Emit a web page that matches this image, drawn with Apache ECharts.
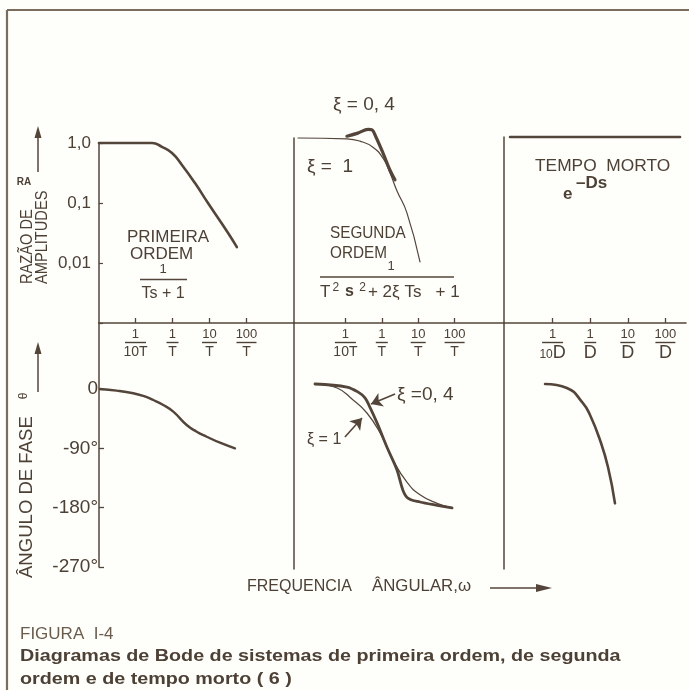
<!DOCTYPE html>
<html>
<head>
<meta charset="utf-8">
<script src="https://cdn.jsdelivr.net/npm/echarts@6/dist/echarts.min.js"></script>
<style>
  html, body { margin: 0; padding: 0; background: #fefefb; }
  #chart { width: 689px; height: 690px; }
</style>
</head>
<body>
<div id="chart"></div>
<script>
// ---- tick values and labels ----
const freqTicks = [0.1, 1, 10, 100];
const freqNumerators = ['1', '1', '10', '100'];
const freqDenomsT = ['10T', 'T', 'T', 'T'];
const freqDenomsD = ['10D', 'D', 'D', 'D'];
const ampTicks = [1, 0.1, 0.01];
const ampTickLabels = ['1,0', '0,1', '0,01'];
const phaseTicks = [0, -90, -180, -270];
const phaseTickLabels = ['0', '-90°', '-180°', '-270°'];

// ---- first order 1/(Ts+1): x = ωT ----
const firstAmpW   = [0.0103, 0.038, 0.18, 0.28, 0.52, 0.97, 1.8, 4.06, 9.1, 31.5, 55];
const firstAmp    = [1, 1, 1, 1, 0.86, 0.68, 0.43, 0.215, 0.1, 0.032, 0.0184];
const firstPhaseW = [0.011, 0.031, 0.087, 0.163, 0.303, 0.564, 1.05, 2.42, 4.51, 8.41, 19.2, 48.8];
const firstPhase  = [0, -2.5, -6.5, -10.6, -16.7, -24.3, -34.4, -54.6, -64.8, -72.4, -81.5, -90];

// ---- second order, ξ = 1 ----
const secondAmpW1   = [0.005, 0.11, 0.25, 0.57, 1.08, 1.68, 2.6, 4.9, 11.2];
const secondAmp1    = [1, 0.97, 0.89, 0.71, 0.47, 0.27, 0.14, 0.061, 0.0098];
const secondPhaseW1 = [0.0146, 0.059, 0.16, 0.39, 0.89, 2.02, 4.9, 11.2, 33, 85];
const secondPhase1  = [0, -6, -24, -44, -74, -115, -149, -168, -181, -188];

// ---- second order, ξ = 0,4 ----
const secondAmpW04   = [0.11, 0.22, 0.42, 0.54, 0.69, 1.08, 1.68, 2.3];
const secondAmp04    = [1.07, 1.2, 1.38, 1.35, 1.04, 0.57, 0.30, 0.21];
const secondPhaseW04 = [0.0146, 0.11, 0.22, 0.345, 0.47, 0.74, 1.39, 2.6, 3.8, 5.2, 11.2, 33, 85];
const secondPhase04  = [0, -4.6, -12, -21, -35, -59, -96, -130, -161, -173, -179, -184, -188];

// ---- dead time e^-Ds: x = ωD ----
const deadAmpW   = [0.0074, 245];
const deadAmp    = [1, 1];
const deadPhaseW = [0.063, 0.24, 0.64, 0.99, 1.82, 2.97, 4.56];
const deadPhase  = [0, -6, -29, -47, -85, -126, -181];

const INK = '#54453a';
const TEXT = '#4d4035';
const FONT = '"Liberation Sans", Arial, sans-serif';

const zip = (xs, ys) => xs.map((x, i) => [x, ys[i]]);
const sameLog = (a, b) => Math.abs(Math.log10(a) - Math.log10(b)) < 1e-6;

const barStyles = ['b20', 'b12', 'b14', 'b18'];
function fracLabel(denoms) {
  return function (v) {
    const i = freqTicks.findIndex(t => sameLog(v, t));
    if (i < 0) return '';
    return '{n|' + freqNumerators[i] + '}\n{' + barStyles[i] + '|\u00a0}\n' + denoms[i];
  };
}
const richFrac = {
  n: { fontSize: 13, lineHeight: 12, color: TEXT, fontFamily: FONT },
  b20: { width: 21, height: 1.4, lineHeight: 5, backgroundColor: TEXT },
  b12: { width: 12, height: 1.4, lineHeight: 5, backgroundColor: TEXT },
  b14: { width: 15, height: 1.4, lineHeight: 5, backgroundColor: TEXT },
  b18: { width: 20, height: 1.4, lineHeight: 5, backgroundColor: TEXT },
  d: { fontSize: 14, lineHeight: 14, color: TEXT, fontFamily: FONT },
  s: { fontSize: 12, lineHeight: 16, color: TEXT, fontFamily: FONT, verticalAlign: 'bottom' },
  D: { fontSize: 18, lineHeight: 16, color: TEXT, fontFamily: FONT }
};
const denT = freqDenomsT.map(d => '{d|' + d + '}');
const denD = freqDenomsD.map(d => d === '10D' ? '{s|10}{D|D}' : '{D|' + d + '}');

function freqAxis(grid, min, max, denoms) {
  const labeled = denoms !== null;
  return {
    type: 'log', gridIndex: grid, min: min, max: max, logBase: 10,
    axisLine: { show: labeled, lineStyle: { color: INK, width: 1.5 } },
    axisTick: { show: labeled, inside: true, length: 5, customValues: freqTicks,
                lineStyle: { color: INK, width: 1.3 } },
    axisLabel: labeled ? { show: true, customValues: freqTicks, margin: 5,
                           formatter: fracLabel(denoms), rich: richFrac, color: TEXT } : { show: false },
    splitLine: { show: false }
  };
}

function ampAxis(grid, labeled) {
  return {
    type: 'log', gridIndex: grid, min: 0.001, max: 1, logBase: 10,
    axisLine: { show: true, onZero: false, lineStyle: { color: INK, width: 1.5 } },
    axisTick: { show: labeled, inside: true, length: 4, lineStyle: { color: INK, width: 1.2 } },
    axisLabel: labeled ? {
      show: true, margin: 8, color: TEXT, fontFamily: FONT, fontSize: 17,
      formatter: v => { const i = ampTicks.findIndex(t => sameLog(v, t)); return i < 0 ? '' : ampTickLabels[i]; }
    } : { show: false },
    splitLine: { show: false }
  };
}

function phaseAxis(grid, min, max, labeled) {
  return {
    type: 'value', gridIndex: grid, min: min, max: max,
    axisLine: { show: true, onZero: false, lineStyle: { color: INK, width: 1.5 } },
    axisTick: { show: labeled, inside: true, length: 5, customValues: phaseTicks,
                lineStyle: { color: INK, width: 1.3 } },
    axisLabel: labeled ? {
      show: true, margin: 1, customValues: phaseTicks, color: TEXT, fontFamily: FONT, fontSize: 19,
      formatter: v => { const i = phaseTicks.indexOf(Math.round(v)); return i < 0 ? '' : phaseTickLabels[i]; }
    } : { show: false },
    splitLine: { show: false }
  };
}

function curve(xi, yi, data, width, extra) {
  return Object.assign({
    type: 'line', xAxisIndex: xi, yAxisIndex: yi, data: data,
    smooth: 0.5, showSymbol: false, symbol: 'none', clip: false, silent: true,
    lineStyle: { color: INK, width: width, cap: 'round', join: 'round' }
  }, extra || {});
}

function txt(text, x, y, opts) {
  opts = opts || {};
  return {
    type: 'text', x: x, y: y, rotation: opts.rotation || 0,
    scaleX: opts.scaleX || 1, scaleY: opts.scaleY || 1, silent: true,
    style: Object.assign({
      text: text, fill: TEXT, font: '15px ' + FONT,
      textAlign: 'left', textVerticalAlign: 'middle'
    }, opts.style || {})
  };
}
function seg(x1, y1, x2, y2, w, color) {
  return { type: 'line', silent: true, shape: { x1, y1, x2, y2 },
           style: { stroke: color || INK, lineWidth: w || 1.5 } };
}
function head(points) {
  return { type: 'polygon', silent: true, shape: { points: points }, style: { fill: INK } };
}

const ROT = Math.PI / 2;

const option = {
  backgroundColor: '#fefefb',
  animation: false,
  grid: [
    { left: 99,  top: 143, width: 195, height: 180 },
    { left: 294, top: 138, width: 210, height: 185 },
    { left: 504, top: 137, width: 182, height: 186 },
    { left: 99,  top: 323, width: 195, height: 244 },
    { left: 294, top: 323, width: 210, height: 246 },
    { left: 504, top: 323, width: 182, height: 246 }
  ],
  xAxis: [
    freqAxis(0, 0.01033, 1923, denT),
    freqAxis(1, 0.00387, 2276, denT),
    freqAxis(2, 0.00510, 353, denD),
    freqAxis(3, 0.01033, 1923, null),
    freqAxis(4, 0.00387, 2276, null),
    freqAxis(5, 0.00510, 353, null)
  ],
  yAxis: [
    ampAxis(0, true),
    ampAxis(1, false),
    ampAxis(2, false),
    phaseAxis(3, -270, 100.1, true),
    phaseAxis(4, -280.6, 92.5, false),
    phaseAxis(5, -280.6, 92.5, false)
  ],
  series: [
    curve(0, 0, zip(firstAmpW, firstAmp), 2.6),
    curve(1, 1, zip(secondAmpW1, secondAmp1), 1.2),
    curve(1, 1, zip(secondAmpW04, secondAmp04), 3.2, { smooth: 0.35 }),
    curve(2, 2, zip(deadAmpW, deadAmp), 2.6, { smooth: false }),
    curve(3, 3, zip(firstPhaseW, firstPhase), 2.4),
    curve(4, 4, zip(secondPhaseW1, secondPhase1), 1.2),
    curve(4, 4, zip(secondPhaseW04, secondPhase04), 2.8, {
      smooth: 0.35,
      markLine: {
        silent: true, animation: false,
        symbol: ['none', 'arrow'], symbolSize: 11,
        label: { show: false },
        lineStyle: { color: INK, width: 1.6, type: 'solid' },
        data: [
          [{ coord: [2.31, -15.2] }, { coord: [0.505, -30.3] }],
          [{ coord: [0.097, -80.4] }, { coord: [0.286, -51.6] }]
        ]
      }
    }),
    curve(5, 5, zip(deadPhaseW, deadPhase), 2.6)
  ],
  graphic: [
    // frame
    seg(7, 10, 689, 10, 2.2, '#7b6d5e'),
    seg(7, 10, 7, 690, 2.2, '#7b6d5e'),
    // left axis titles
    seg(38, 172, 38, 136, 1.5), head([[34.5, 138], [41.5, 138], [38, 126]]),
    txt('RA', 24, 182, { style: { font: 'bold 10px ' + FONT, textAlign: 'center' } }),
    txt('RAZÃO DE', 27, 284, { rotation: ROT, scaleX: 0.86, style: { font: '17px ' + FONT } }),
    txt('AMPLITUDES', 42, 284, { rotation: ROT, scaleX: 0.86, style: { font: '17px ' + FONT } }),
    seg(38, 392, 38, 352, 1.5), head([[34.5, 354], [41.5, 354], [38, 342]]),
    txt('θ', 24, 396, { rotation: ROT, style: { font: '12px ' + FONT, textAlign: 'center' } }),
    txt('ÂNGULO DE FASE', 27, 578, { rotation: ROT, scaleX: 1.03, style: { font: '18px ' + FONT } }),
    // first order panel
    txt('PRIMEIRA', 127, 237, { style: { font: '17px ' + FONT } }),
    txt('ORDEM', 130, 254, { style: { font: '17px ' + FONT } }),
    txt('1', 163, 269, { style: { font: '13px ' + FONT, textAlign: 'center' } }),
    seg(140, 279.5, 187, 279.5, 1.3),
    txt('Ts + 1', 163, 294, { style: { font: '16px ' + FONT, textAlign: 'center' } }),
    // second order panel
    txt('ξ = 0, 4', 333, 105, { style: { font: '19px ' + FONT } }),
    txt('ξ =  1', 307, 167, { style: { font: '19px ' + FONT } }),
    txt('SEGUNDA', 330, 233, { scaleX: 0.9, style: { font: '17px ' + FONT } }),
    txt('ORDEM', 330, 253, { scaleX: 0.9, style: { font: '17px ' + FONT } }),
    txt('1', 391, 266, { style: { font: '13px ' + FONT, textAlign: 'center' } }),
    seg(320, 277, 454, 277, 1.3),
    {
      type: 'text', x: 320, y: 292, silent: true,
      style: {
        text: '{t|T}{p|2}{s|s}{p| 2}{t|+ 2ξ Ts   + 1}', textVerticalAlign: 'middle',
        rich: {
          t: { font: '17px ' + FONT, fill: TEXT, lineHeight: 20 },
          s: { font: 'bold 16px ' + FONT, fill: TEXT, lineHeight: 20, padding: [0, 0, 0, 4] },
          p: { font: '12px ' + FONT, fill: TEXT, lineHeight: 20, verticalAlign: 'top', padding: [0, 2, 9, 2] }
        }
      }
    },
    txt('ξ =0, 4', 397, 395, { style: { font: '19px ' + FONT } }),
    txt('ξ = 1', 307, 440, { style: { font: '16px ' + FONT } }),
    // dead time panel
    txt('TEMPO  MORTO', 535, 166, { scaleX: 1.02, style: { font: '17px ' + FONT } }),
    txt('e', 563, 194, { style: { font: 'bold 17px ' + FONT } }),
    txt('–Ds', 576, 183, { style: { font: 'bold 17px ' + FONT } }),
    // frequency axis title
    txt('FREQUENCIA', 247, 587, { style: { font: '16px ' + FONT } }),
    txt('ÂNGULAR,ω', 372, 587, { scaleX: 1.05, style: { font: '16px ' + FONT } }),
    seg(490, 588, 538, 588, 1.5), head([[536, 584], [536, 592], [552, 588]]),
    // caption
    txt('FIGURA  I-4', 20, 634, { style: { font: '17px ' + FONT, fill: '#6a5c4d' } }),
    txt('Diagramas de Bode de sistemas de primeira ordem, de segunda', 20, 656,
        { scaleX: 1.16, style: { font: 'bold 17px ' + FONT } }),
    txt('ordem e de tempo morto ( 6 )', 20, 679,
        { scaleX: 1.16, style: { font: 'bold 17px ' + FONT } })
  ]
};

const chart = echarts.init(document.getElementById('chart'), null, { renderer: 'canvas' });
chart.setOption(option);
</script>
</body>
</html>
